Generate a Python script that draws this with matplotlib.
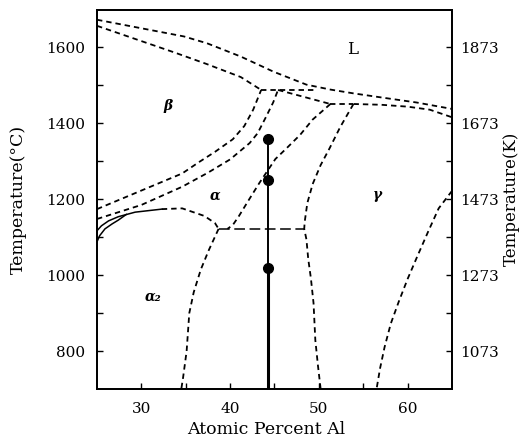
import matplotlib.pyplot as plt

plt.rcParams['font.family'] = ['DejaVu Serif']

# phase boundaries: (at.% Al, deg C)
liq_x = [25, 34.8, 37.4, 41.2, 44.9, 48.6, 51.3, 53.9, 58.0, 61.0, 65.0]
liq_t = [1673, 1629, 1611, 1576, 1536, 1502, 1489, 1479, 1465, 1455, 1438]

bsol_x = [25, 33.7, 37.4, 41.2, 43.5]
bsol_t = [1657, 1587, 1556, 1522, 1488]

perit1_x = [43.5, 49.6]
perit1_t = [1488, 1488]

asol_x = [45.4, 51.3]
asol_t = [1488, 1451]

perit2_x = [51.3, 53.9]
perit2_t = [1451, 1451]

gsol_x = [53.9, 57.0, 60.0, 62.5, 65.0]
gsol_t = [1451, 1449, 1444, 1436, 1416]

btr_out_x = [25, 34.6, 36.5, 38.3, 40.3, 41.6, 42.6, 43.5]
btr_out_t = [1174, 1268, 1298, 1325, 1358, 1393, 1436, 1488]

btr_in_x = [25, 30.0, 34.6, 37.5, 40.0, 42.2, 43.1, 44.0, 44.85, 45.4]
btr_in_t = [1148, 1185, 1233, 1270, 1305, 1348, 1374, 1415, 1455, 1488]

dome_up_x = [25, 25.5, 26.3, 27.4, 29.3, 32.3]
dome_up_t = [1117, 1130, 1143, 1154, 1166, 1174]

dome_lo_x = [25, 25.3, 25.9, 26.7, 27.4, 28.3]
dome_lo_t = [1088, 1104, 1122, 1135, 1145, 1160]

dome_dash_x = [32.3, 34.6, 37.1, 38.3, 38.7]
dome_dash_t = [1174, 1176, 1156, 1137, 1122]

eut_x = [38.7, 48.4]
eut_t = [1122, 1122]

a2_x = [38.7, 37.6, 36.7, 35.9, 35.4, 35.1, 34.7, 34.5]
a2_t = [1122, 1066, 1015, 955, 900, 800, 730, 700]

ag_x = [51.3, 49.3, 47.9, 46.3, 45.1, 43.3, 42.1, 41.0, 40.3, 39.7]
ag_t = [1451, 1410, 1370, 1333, 1306, 1243, 1198, 1156, 1132, 1122]

gam_x = [53.9, 52.4, 51.2, 50.2, 49.3, 48.7, 48.4, 48.35, 48.6, 48.8, 49.1, 49.4, 49.6, 49.9, 50.2]
gam_t = [1451, 1390, 1334, 1290, 1240, 1190, 1140, 1122, 1094, 1043, 992, 926, 829, 761, 700]

gam_r_x = [65.0, 63.5, 62.3, 61.1, 60.0, 59.0, 58.1, 57.4, 56.9, 56.5]
gam_r_t = [1222, 1176, 1114, 1050, 990, 930, 872, 810, 755, 700]

alloy_x = 44.3
dot_t = [1360, 1250, 1020]

c_ticks = [800, 1000, 1200, 1400, 1600]
k_labels = ['1073', '1273', '1473', '1673', '1873']

fig = plt.figure(figsize=(5.26, 4.42), dpi=100)
ax = fig.add_axes([0.1844, 0.1199, 0.6749, 0.8586])

dash = dict(color='k', lw=1.3, dashes=(3, 2.2))
for xs, ts in [(liq_x, liq_t), (bsol_x, bsol_t), (perit1_x, perit1_t),
               (asol_x, asol_t), (perit2_x, perit2_t), (gsol_x, gsol_t),
               (btr_out_x, btr_out_t), (btr_in_x, btr_in_t),
               (dome_dash_x, dome_dash_t), (a2_x, a2_t), (ag_x, ag_t),
               (gam_x, gam_t), (gam_r_x, gam_r_t)]:
    ax.plot(xs, ts, **dash)

ax.plot(eut_x, eut_t, color='k', lw=1.1, dashes=(7, 3))
ax.plot(dome_up_x, dome_up_t, color='k', lw=1.1)
ax.plot(dome_lo_x, dome_lo_t, color='k', lw=1.1)

# alloy composition and heat treatment temperatures
ax.plot([alloy_x, alloy_x], [dot_t[0], dot_t[2]], color='k', lw=1.4)
ax.plot([alloy_x, alloy_x], [dot_t[2], 700], color='k', lw=2.2)
ax.plot([alloy_x] * 3, dot_t, 'o', color='k', ms=7)

txt = dict(fontsize=10, style='italic', weight='bold', ha='center', va='center')
ax.text(33.0, 1445, 'β', **txt)
ax.text(38.3, 1210, 'α', **txt)
ax.text(56.6, 1212, 'γ', **txt)
ax.text(31.3, 943, 'α₂', **txt)
ax.text(53.8, 1595, 'L', fontsize=12, ha='center', va='center')

ax.set_xlim(25, 65)
ax.set_ylim(700, 1700)
ax.set_xticks([30, 40, 50, 60])
ax.set_xticks([35, 45, 55], minor=True)
ax.set_yticks(c_ticks)
ax.set_yticks([900, 1100, 1300, 1500], minor=True)
ax.tick_params(which='both', direction='in', length=4, width=1, labelsize=11)
ax.tick_params(axis='y', pad=8.5)
ax.tick_params(axis='x', pad=9)
for s in ax.spines.values():
    s.set_linewidth(1.3)

ax2 = ax.twinx()
ax2.set_ylim(700, 1700)
ax2.set_yticks(c_ticks)
ax2.set_yticklabels(k_labels)
ax2.set_yticks([900, 1100, 1300, 1500], minor=True)
ax2.tick_params(which='both', direction='in', length=4, width=1, labelsize=11, pad=6)
for s in ax2.spines.values():
    s.set_linewidth(1.3)

ax.set_xlabel('Atomic Percent Al', fontsize=12.5, va='center')
ax.xaxis.set_label_coords(0.477, -0.108)
ax.set_ylabel('Temperature(°C)', fontsize=12.5, va='center')
ax.yaxis.set_label_coords(-0.222, 0.5)
ax2.set_ylabel('Temperature(K)', fontsize=12, va='center')
ax2.yaxis.set_label_coords(1.168, 0.5)

fig.savefig('out.png', dpi=100)
